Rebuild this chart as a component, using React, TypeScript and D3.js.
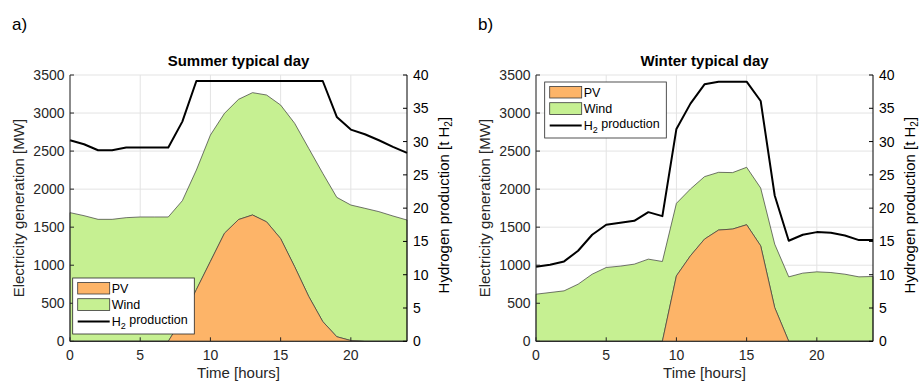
import React from "react";
import * as d3 from "d3";

const hours = d3.range(0, 25);

// Summer typical day
const summerPV = [0, 0, 0, 0, 0, 0, 0, 0, 300, 680, 1050, 1420, 1600, 1660, 1570, 1350, 980, 590, 260, 60, 10, 0, 0, 0, 0];
const summerWind = [1691, 1651, 1603, 1603, 1625, 1634, 1634, 1634, 1548, 1571, 1661, 1576, 1580, 1608, 1667, 1755, 1885, 1946, 1948, 1832, 1781, 1748, 1704, 1647, 1594];
const summerH2 = [30.2, 29.6, 28.7, 28.7, 29.1, 29.1, 29.1, 29.1, 33.0, 39.1, 39.1, 39.1, 39.1, 39.1, 39.1, 39.1, 39.1, 39.1, 39.1, 33.7, 31.8, 31.1, 30.2, 29.2, 28.3];

// Winter typical day
const winterPV = [0, 0, 0, 0, 0, 0, 0, 0, 0, 0, 860, 1124, 1343, 1462, 1475, 1532, 1255, 443, 0, 0, 0, 0, 0, 0, 0];
const winterWind = [619, 641, 663, 751, 882, 970, 988, 1014, 1080, 1049, 953, 878, 821, 759, 742, 755, 760, 834, 847, 896, 913, 904, 882, 847, 852];
const winterH2 = [11.2, 11.5, 12.0, 13.6, 16.0, 17.5, 17.8, 18.1, 19.4, 18.8, 31.9, 35.7, 38.6, 39.0, 39.0, 39.0, 36.1, 21.9, 15.1, 16.0, 16.4, 16.3, 15.9, 15.2, 15.2];

const mwTicks = [0, 500, 1000, 1500, 2000, 2500, 3000, 3500];
const h2Ticks = [0, 5, 10, 15, 20, 25, 30, 35, 40];
const hourTicks = [0, 5, 10, 15, 20];

const PV_COLOR = "#FDB468";
const WIND_COLOR = "#C6F092";
const FONT = "'Liberation Sans', Arial, Helvetica, sans-serif";

type PanelProps = {
  left: number;
  label: string;
  title: string;
  pv: number[];
  wind: number[];
  h2: number[];
  legendX: number;
  legendY: number;
};

function Panel({ left, label, title, pv, wind, h2, legendX, legendY }: PanelProps) {
  const top = 75;
  const bottom = 341.3;
  const width = 337;
  const x = d3.scaleLinear().domain([0, 24]).range([left, left + width]);
  const yL = d3.scaleLinear().domain([0, 3500]).range([bottom, top]);
  const yR = d3.scaleLinear().domain([0, 40]).range([bottom, top]);

  const pvArea = d3
    .area<number>()
    .x((_, i) => x(hours[i]))
    .y0(() => yL(0))
    .y1((d) => yL(d))(pv) as string;
  const windArea = d3
    .area<number>()
    .x((_, i) => x(hours[i]))
    .y0((_, i) => yL(pv[i]))
    .y1((d, i) => yL(pv[i] + d))(wind) as string;
  const h2Line = d3
    .line<number>()
    .x((_, i) => x(hours[i]))
    .y((d) => yR(d))(h2) as string;

  const right = left + width;
  const axisCol = "#262626";
  const tickLen = 4;

  const lw = 121.6;
  const lh = 56;

  return (
    <g fontFamily={FONT}>
      <text x={left - 58} y={29.5} fontSize={17} fill="#000">
        {label}
      </text>
      <text x={(left + right) / 2} y={66} fontSize={15} fontWeight="bold" textAnchor="middle" fill="#000">
        {title}
      </text>
      {/* grid */}
      {hourTicks.map((t) => (
        <line key={"gx" + t} x1={x(t)} x2={x(t)} y1={top} y2={bottom} stroke="#e3e3e3" strokeWidth={1} />
      ))}
      {mwTicks.map((t) => (
        <line key={"gy" + t} x1={left} x2={right} y1={yL(t)} y2={yL(t)} stroke="#e3e3e3" strokeWidth={1} />
      ))}
      {/* data */}
      <path d={windArea} fill={WIND_COLOR} stroke="#3a3a3a" strokeWidth={0.7} />
      <path d={pvArea} fill={PV_COLOR} stroke="#3a3a3a" strokeWidth={0.7} />
      <path d={h2Line} fill="none" stroke="#000" strokeWidth={2} strokeLinejoin="round" />
      {/* axes */}
      <line x1={left} x2={left} y1={top} y2={bottom} stroke={axisCol} strokeWidth={1} />
      <line x1={right} x2={right} y1={top} y2={bottom} stroke="#000" strokeWidth={1} />
      <line x1={left} x2={right} y1={bottom} y2={bottom} stroke={axisCol} strokeWidth={1} />
      {mwTicks.map((t) => (
        <g key={"tl" + t}>
          <line x1={left} x2={left + tickLen} y1={yL(t)} y2={yL(t)} stroke={axisCol} />
          <text x={left - 5.5} y={yL(t)} dy="0.36em" fontSize={14} textAnchor="end" fill="#262626">
            {t}
          </text>
        </g>
      ))}
      {h2Ticks.map((t) => (
        <g key={"tr" + t}>
          <line x1={right} x2={right - tickLen} y1={yR(t)} y2={yR(t)} stroke="#000" />
          <text x={right + 6} y={yR(t)} dy="0.36em" fontSize={14} textAnchor="start" fill="#000">
            {t}
          </text>
        </g>
      ))}
      {hourTicks.map((t) => (
        <g key={"tx" + t}>
          <line x1={x(t)} x2={x(t)} y1={bottom} y2={bottom - tickLen} stroke={axisCol} />
          <text x={x(t)} y={360} fontSize={14} textAnchor="middle" fill="#262626">
            {t}
          </text>
        </g>
      ))}
      <text x={(left + right) / 2} y={378} fontSize={15} textAnchor="middle" fill="#262626">
        Time [hours]
      </text>
      <text
        transform={`translate(${left - 46},${(top + bottom) / 2}) rotate(-90)`}
        fontSize={15}
        textAnchor="middle"
        fill="#262626"
      >
        Electricity generation [MW]
      </text>
      <text
        transform={`translate(${right + 42},${(top + bottom) / 2 - 3}) rotate(-90)`}
        fontSize={15}
        textAnchor="middle"
        fill="#000"
      >
        Hydrogen production [t H
        <tspan fontSize={10} dy="0.3em">2</tspan>
        <tspan dy="-0.2em">]</tspan>
      </text>
      {/* legend */}
      <g transform={`translate(${legendX},${legendY})`}>
        <rect x={0} y={0} width={lw} height={lh} fill="#fff" stroke="#262626" strokeWidth={0.8} />
        <rect x={5} y={4.5} width={32} height={11.5} fill={PV_COLOR} stroke="#3a3a3a" strokeWidth={0.8} />
        <rect x={5} y={20.7} width={32} height={11.8} fill={WIND_COLOR} stroke="#3a3a3a" strokeWidth={0.8} />
        <line x1={5} x2={37} y1={43.5} y2={43.5} stroke="#000" strokeWidth={2} />
        <text x={39} y={14.6} fontSize={12.5} fill="#000">PV</text>
        <text x={39} y={31} fontSize={12.5} fill="#000">Wind</text>
        <text x={39} y={47.5} fontSize={12.5} fill="#000">
          H<tspan fontSize={9} dy="0.35em">2</tspan>
          <tspan dy="-0.35em"> production</tspan>
        </text>
      </g>
    </g>
  );
}

export default function App() {
  return (
    <svg
      width={920}
      height={382}
      style={{ position: "absolute", left: 0, top: 0, background: "#fff" }}
    >
      <rect width={920} height={382} fill="#fff" />
      <Panel
        left={70}
        label="a)"
        title="Summer typical day"
        pv={summerPV}
        wind={summerWind}
        h2={summerH2}
        legendX={72.7}
        legendY={278}
      />
      <Panel
        left={536}
        label="b)"
        title="Winter typical day"
        pv={winterPV}
        wind={winterWind}
        h2={winterH2}
        legendX={544.7}
        legendY={82}
      />
    </svg>
  );
}
